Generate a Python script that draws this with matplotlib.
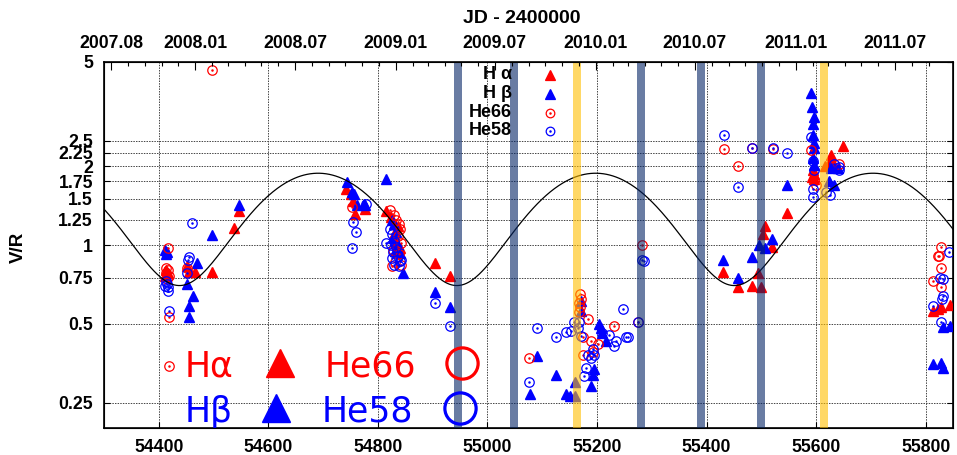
# -*- coding: utf-8 -*-
'''
    V/R das linhas de emissao (H alfa, H beta, He I 6678, He I 5876)
    com o modelo senoidal e as epocas de observacao marcadas
'''

from datetime import date
import matplotlib.pyplot as plt
import numpy as np
from matplotlib.ticker import FixedLocator, NullLocator

plt.rcParams['font.family'] = ['Liberation Sans', 'DejaVu Sans']

# _____________________________________________________________________________
#                           Dados (JD - 2400000, V/R)
# _____________________________________________________________________________

ha_jd = [54414, 54416, 54412, 54451, 54456, 54467, 54498, 54538, 54547,
         54741, 54751, 54759, 54777, 54754, 54814, 54824, 54836, 54830,
         54834, 54840, 54905, 54931,
         55431, 55457, 55483, 55494, 55499, 55506, 55504, 55520, 55547,
         55594, 55597, 55592, 55596, 55616, 55628, 55630, 55624, 55650,
         55814, 55829, 55844, 55822]
ha_vr = [0.80, 0.78, 0.76, 0.83, 0.79, 0.79, 0.79, 1.16, 1.35,
         1.64, 1.57, 1.31, 1.37, 1.47, 1.35, 1.28, 1.18, 1.10,
         1.02, 0.97, 0.85, 0.76,
         0.79, 0.69, 0.70, 0.78, 0.69, 1.18, 1.10, 0.98, 1.33,
         1.93, 1.87, 1.82, 1.78, 2.01, 2.20, 2.10, 2.05, 2.38,
         0.56, 0.58, 0.59, 0.57]

hb_jd = [54412, 54415, 54413, 54470, 54451, 54462, 54456, 54456, 54498,
         54547, 54743, 54753, 54756, 54762, 54777, 54774, 54814, 54826,
         54830, 54833, 54828, 54836, 54832, 54840, 54845, 54904, 54931,
         55090, 55077, 55125, 55143, 55151, 55160, 55160, 55171, 55171,
         55204, 55207, 55210, 55216, 55192, 55189, 55195,
         55431, 55457, 55483, 55496, 55506, 55520, 55547,
         55590, 55593, 55597, 55594, 55594, 55596, 55597, 55595, 55597,
         55628, 55624, 55633, 55640,
         55832, 55844, 55814, 55829, 55832]
hb_vr = [0.96, 0.94, 0.92, 0.85, 0.71, 0.64, 0.585, 0.53, 1.09,
         1.42, 1.74, 1.59, 1.57, 1.42, 1.42, 1.43, 1.78, 1.25,
         1.20, 1.12, 1.06, 1.00, 0.95, 0.93, 0.78, 0.66, 0.58,
         0.377, 0.27, 0.32, 0.27, 0.265, 0.30, 0.265, 0.61, 0.56,
         0.50, 0.48, 0.46, 0.43, 0.32, 0.29, 0.335,
         0.88, 0.75, 0.90, 1.00, 0.97, 1.05, 1.69,
         3.82, 3.37, 3.09, 2.90, 2.62, 2.45, 2.34, 2.15, 2.02,
         1.96, 1.75, 1.69, 1.97,
         0.485, 0.49, 0.35, 0.355, 0.34]

he66_jd = [54416, 54414, 54416, 54413, 54418, 54415, 54418, 54418, 54452,
           54498, 54753, 54823, 54830, 54834, 54838, 54840, 54836, 54842,
           54828, 54838, 54832, 54843, 54826,
           55076, 55169, 55170, 55168, 55169, 55168, 55183, 55174, 55189,
           55201, 55174, 55192, 55232, 55274, 55282,
           55432, 55457, 55483, 55521, 55590, 55597, 55600, 55641,
           55829, 55825, 55823, 55829, 55814, 55829]
he66_vr = [0.97, 0.82, 0.80, 0.78, 0.76, 0.74, 0.53, 0.345, 0.82,
           4.65, 1.40, 1.36, 1.30, 1.25, 1.20, 1.15, 1.08, 1.02,
           0.96, 0.92, 0.86, 0.84, 0.83,
           0.37, 0.65, 0.62, 0.60, 0.58, 0.555, 0.52, 0.445, 0.43,
           0.42, 0.38, 0.39, 0.49, 0.51, 1.00,
           2.33, 2.01, 2.35, 2.33, 2.30, 1.77, 1.70, 2.04,
           0.98, 0.905, 0.91, 0.82, 0.73, 0.69]

he58_jd = [54413, 54415, 54412, 54416, 54417, 54418, 54456, 54454, 54452,
           54460, 54754, 54760, 54752, 54778, 54814, 54822, 54826, 54830,
           54824, 54834, 54828, 54836, 54826, 54840, 54830, 54838, 54843,
           54904, 54931,
           55090, 55076, 55125, 55143, 55152, 55167, 55165, 55170, 55158,
           55192, 55183, 55180, 55177, 55210, 55222, 55235, 55232, 55247,
           55253, 55256, 55274, 55190, 55195, 55283, 55285,
           55432, 55457, 55483, 55521, 55547,
           55591, 55594, 55596, 55594, 55594, 55619, 55625, 55633, 55641,
           55641,
           55843, 55826, 55832, 55832, 55830, 55814, 55829]
he58_vr = [0.73, 0.71, 0.70, 0.69, 0.67, 0.56, 0.90, 0.88, 0.78,
           1.21, 1.22, 1.12, 0.97, 1.43, 1.02, 1.15, 1.10, 1.04,
           1.00, 0.98, 0.94, 0.91, 0.89, 0.87, 0.84, 0.83, 0.88,
           0.60, 0.49,
           0.48, 0.30, 0.445, 0.464, 0.47, 0.51, 0.48, 0.45, 0.51,
           0.40, 0.38, 0.34, 0.315, 0.46, 0.455, 0.43, 0.41, 0.57,
           0.445, 0.445, 0.51, 0.37, 0.38, 0.88, 0.87,
           2.63, 1.67, 2.35, 2.34, 2.25,
           2.58, 2.10, 1.93, 1.64, 1.53, 1.60, 1.55, 2.04, 1.98,
           1.93,
           0.94, 0.75, 0.74, 0.64, 0.62, 0.585, 0.51]

# Modelo senoidal do ciclo V/R
VR_MEAN = 1.29
VR_AMP = 0.59
VR_PERIOD = 506.5
VR_TMAX = 54691.

# Epocas marcadas (centros das faixas, JD - 2400000)
bands_gray = [54946, 55048, 55280, 55390, 55499]
bands_gold = [55164, 55614]
BAND_W = 14.6

# Eixos
XLIM = [54300, 55850]
YLIM = [0.2, 5]
xticks = [54400, 54600, 54800, 55000, 55200, 55400, 55600, 55800]
yticks = [0.25, 0.5, 0.75, 1, 1.25, 1.5, 1.75, 2, 2.25, 2.5, 5]
ytick_labels = ['0.25', '0.5', '0.75', '1', '1.25', '1.5', '1.75', '2',
                '2.25', '2.5', '5']
top_labels = ['2007.08', '2008.01', '2008.07', '2009.01', '2009.07',
              '2010.01', '2010.07', '2011.01', '2011.07']

# _____________________________________________________________________________


def jd24(year, month):
    ''' JD - 2400000 no inicio do mes '''
    return (date(year, month, 1) - date(1858, 11, 17)).days + 0.5


RED = '#ff0000'
BLUE = '#0000ff'

fig = plt.figure(figsize=(9.57, 4.55), dpi=100)
ax = fig.add_axes([104 / 957, 1 - 428 / 455, 849 / 957, 366 / 455])

# pontos
ax.plot(ha_jd, ha_vr, ls='none', marker='^', ms=7.3, color=RED,
        mec=RED, zorder=3)
ax.plot(hb_jd, hb_vr, ls='none', marker='^', ms=7.3, color=BLUE,
        mec=BLUE, zorder=3)
for jd, vr, c in ((he66_jd, he66_vr, RED), (he58_jd, he58_vr, BLUE)):
    ax.plot(jd, vr, ls='none', marker='o', ms=6.8, mfc='none', mec=c,
            mew=0.9, zorder=3)
    ax.plot(jd, vr, ls='none', marker='.', ms=1.6, color=c, zorder=3)

# curva do modelo
t = np.linspace(XLIM[0], XLIM[1], 800)
model = VR_MEAN + VR_AMP * np.cos(2 * np.pi * (t - VR_TMAX) / VR_PERIOD)
ax.plot(t, model, color='k', lw=0.9, zorder=4)

# faixas das epocas
for b in bands_gray:
    ax.axvspan(b - BAND_W / 2, b + BAND_W / 2, color='#052566', alpha=0.6,
               lw=0, zorder=5)
for b in bands_gold:
    ax.axvspan(b - BAND_W / 2, b + BAND_W / 2, color='#ffbe00', alpha=0.6,
               lw=0, zorder=5)

ax.set_yscale('log')
ax.set_xlim(XLIM)
ax.set_ylim(YLIM)
ax.xaxis.set_major_locator(FixedLocator(xticks))
ax.xaxis.set_minor_locator(NullLocator())
ax.yaxis.set_major_locator(FixedLocator(yticks))
ax.yaxis.set_minor_locator(NullLocator())
ax.set_yticklabels(ytick_labels)
ax.set_xticklabels([str(x) for x in xticks])

for v in xticks:
    ax.axvline(v, color='#444444', lw=0.7, ls=(0, (1.5, 1.2)), zorder=1)
for v in yticks[:-1]:
    ax.axhline(v, color='#444444', lw=0.7, ls=(0, (1.5, 1.2)), zorder=1)

ax.tick_params(axis='both', which='major', direction='in', length=4,
               width=0.8, labelsize=12.7, pad=8, top=False, right=True)
for lab in ax.get_xticklabels() + ax.get_yticklabels():
    lab.set_fontweight('bold')
for s in ax.spines.values():
    s.set_linewidth(1.2)

# eixo superior com as datas
ax2 = ax.twiny()
ax2.set_xlim(XLIM)
months = [jd24(y, m) for y in range(2007, 2012) for m in range(1, 13)
          if jd24(2007, 8) <= jd24(y, m) <= jd24(2011, 9)]
ax2.xaxis.set_major_locator(FixedLocator(
    [jd24(int(s[:4]), int(s[5:])) for s in top_labels]))
ax2.xaxis.set_minor_locator(FixedLocator(months))
ax2.set_xticklabels(top_labels)
ax2.tick_params(axis='x', which='major', direction='in', length=6,
                width=0.8, labelsize=12.7, pad=7)
ax2.tick_params(axis='x', which='minor', direction='in', length=3,
                width=0.8)
for lab in ax2.get_xticklabels():
    lab.set_fontweight('bold')

# legenda no topo
leg_txt = ['H α', 'H β', 'He66', 'He58']
leg_y = [0.9645, 0.9126, 0.8607, 0.8115]
leg_mk = [('^', RED, RED), ('^', BLUE, BLUE), ('o', 'none', RED),
          ('o', 'none', BLUE)]
for txt, y, (mk, fc, ec) in zip(leg_txt, leg_y, leg_mk):
    ax.text(0.4806, y, txt, transform=ax.transAxes, ha='right', va='center',
            fontsize=13, fontweight='bold', zorder=6)
    ax.plot([0.5253], [y], transform=ax.transAxes, ls='none', marker=mk,
            ms=7 if mk == '^' else 6.2, mfc=fc, mec=ec, mew=0.9, zorder=6,
            clip_on=False)
    if mk == 'o':
        ax.plot([0.5253], [y], transform=ax.transAxes, ls='none',
                marker='.', ms=1.6, color=ec, zorder=6)

# legenda grande no canto inferior
big = [('Hα', 'He66', RED, 0.140, 0.1776, 0.2073, 0.4213, 0.2603),
       ('Hβ', 'He58', BLUE, 0.0172, 0.0538, 0.2026, 0.4193, 0.2564)]
for t1, t2, c, yb, ym, xtri, xcir, xt2 in big:
    ax.text(0.0954, yb, t1, transform=ax.transAxes, color=c, fontsize=25,
            family='DejaVu Sans', va='baseline', ha='left', zorder=6)
    ax.text(xt2, yb, t2, transform=ax.transAxes, color=c, fontsize=25,
            family='DejaVu Sans', va='baseline', ha='left', zorder=6)
    ax.plot([xtri], [ym], transform=ax.transAxes, ls='none', marker='^',
            ms=20, color=c, zorder=6, clip_on=False)
    ax.plot([xcir], [ym], transform=ax.transAxes, ls='none', marker='o',
            ms=22.5, mfc='none', mec=c, mew=2.3, zorder=6, clip_on=False)

fig.text(522 / 957, 1 - 23.3 / 455, 'JD - 2400000', ha='center',
         va='baseline', fontsize=14, fontweight='bold')
fig.text(18 / 957, 1 - 247 / 455, 'V/R', rotation=90, ha='center',
         va='center', fontsize=13.5, fontweight='bold')

fig.savefig('out.png', dpi=100)
